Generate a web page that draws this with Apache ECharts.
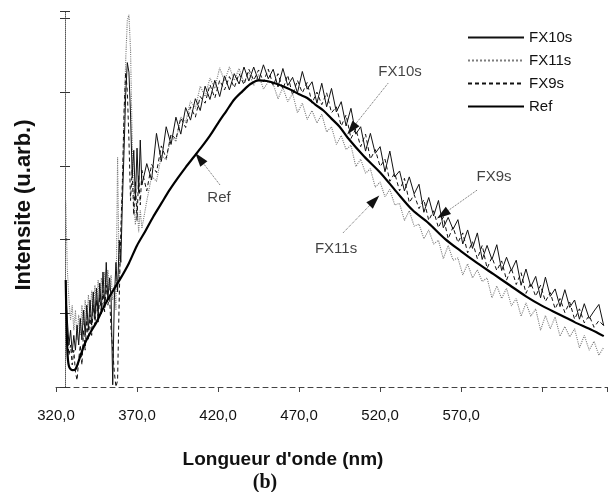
<!DOCTYPE html>
<html>
<head>
<meta charset="utf-8">
<script src="https://cdn.jsdelivr.net/npm/echarts@6/dist/echarts.min.js"></script>
<style>html,body{margin:0;padding:0;background:#fff}#c{width:615px;height:492px}</style>
</head>
<body>
<div id="c"></div>
<script>
// Wavelength sampling (nm) shared by the three FX spectra
const fxNm = [326,327,328,329,330,331,332,333,334,335,336,337,338,339,340,341,342,343,344,345,346,347,348,349,350,351,352,353,354,355,356,357,358,359,360,361,362,363,364,365,366,367,368,369,370,371,372,373,
376,379,382,385,388,391,394,397,400,403,406,409,412,415,418,421,424,427,430,433,436,439,442,445,448,451,
454,457,460,463,466,469,472,475,478,481,484,487,490,493,496,499,502,505,508,511,514,517,520,523,526,529,532,535,538,541,544,547,550,553,556,559,562,565,568,571,574,577,580,583,586,589,592,595,598,601,604,607,610,613,616,619,622,625,628,631,634,637,640,643,646,649,652,655,658];

const fx10 = [1.31,0.91,0.57,0.77,0.47,0.70,0.50,0.84,0.57,0.93,0.64,1.04,0.70,1.11,0.77,1.18,0.84,1.29,0.93,1.34,0.98,1.41,1.04,1.56,1.11,1.69,1.18,1.48,1.21,0.03,1.18,1.69,1.29,1.99,1.69,2.53,3.21,3.96,4.40,4.27,3.69,2.87,3.21,2.53,3.24,2.64,3.35,2.74,
3.03,2.81,3.44,3.06,3.53,3.29,3.66,3.43,3.79,3.62,3.91,3.75,4.08,3.90,4.16,3.94,4.22,4.03,4.25,4.11,4.34,4.15,4.34,4.15,4.37,4.18,
4.31,4.07,4.32,4.09,4.20,3.99,4.28,4.04,4.14,3.85,4.12,3.80,4.05,3.73,3.87,3.54,3.78,3.43,3.53,3.20,3.44,3.17,3.26,2.92,3.20,2.85,2.93,2.66,2.85,2.62,2.75,2.37,2.57,2.32,2.53,2.16,2.30,2.14,2.27,1.94,2.13,1.88,2.09,1.73,1.92,1.73,1.93,1.58,1.76,1.58,1.72,1.38,1.60,1.36,1.50,1.21,1.49,1.23,1.33,1.09,1.32,1.08,1.18,0.92,1.13,0.93,1.03,1.12,0.83];

const fx9 = [1.18,0.70,0.43,0.57,0.30,0.50,0.20,0.09,0.37,0.57,0.30,0.77,0.50,0.91,0.64,0.98,0.70,1.11,0.84,1.18,0.88,1.25,0.98,1.31,1.02,1.38,1.11,1.25,0.77,0.50,0.20,0.00,0.09,1.18,2.13,2.80,3.75,4.27,4.02,3.35,2.53,2.94,2.33,2.80,2.26,2.87,2.47,2.94,
2.66,3.02,2.91,3.27,3.10,3.43,3.36,3.65,3.52,3.80,3.66,3.94,3.85,4.10,3.92,4.16,4.03,4.21,4.06,4.25,4.10,4.31,4.16,4.30,4.14,4.31,
4.09,4.25,4.04,4.23,3.96,4.16,3.99,4.13,3.85,4.00,3.83,3.99,3.72,3.80,3.54,3.69,3.37,3.50,3.26,3.43,3.09,3.22,2.99,3.09,2.79,2.90,2.66,2.83,2.50,2.61,2.42,2.54,2.26,2.39,2.16,2.31,2.01,2.17,1.96,2.09,1.82,1.97,1.74,1.92,1.61,1.76,1.58,1.71,1.45,1.61,1.39,1.55,1.27,1.41,1.23,1.38,1.16,1.28,1.06,1.20,1.01,1.15,0.92,1.06,0.87,0.97,0.81,0.90,0.83];

const fx11 = [2.53,1.59,1.18,0.91,1.11,0.77,1.04,0.64,0.98,0.70,1.11,0.84,1.18,0.91,1.25,0.93,1.31,1.02,1.38,1.11,1.45,1.18,1.48,1.21,1.56,1.29,1.59,1.31,1.52,1.18,1.38,1.04,3.12,1.45,1.99,2.80,3.62,4.43,4.97,5.05,4.57,3.35,2.47,2.20,2.53,2.10,2.40,2.15,
2.52,2.86,2.79,3.14,3.08,3.41,3.33,3.66,3.59,3.88,3.78,4.08,3.94,4.19,4.05,4.33,4.15,4.34,4.16,4.32,4.13,4.27,4.09,4.24,4.04,4.14,
4.11,3.91,4.06,3.87,3.98,3.72,3.85,3.63,3.75,3.58,3.70,3.46,3.53,3.29,3.41,3.22,3.28,2.99,3.09,2.90,2.96,2.71,2.78,2.58,2.68,2.47,2.49,2.26,2.39,2.18,2.21,2.01,2.13,1.94,1.99,1.74,1.92,1.72,1.75,1.52,1.67,1.48,1.59,1.43,1.48,1.21,1.37,1.20,1.34,1.10,1.20,0.96,1.14,0.96,1.06,0.77,0.97,0.79,0.95,0.69,0.82,0.68,0.79,0.53,0.70,0.50,0.62,0.43,0.54];

// Reference spectrum (smooth)
const refNm = [326,327,328,330,332,335,338,341,345,350,355,360,365,370,375,380,385,390,395,400,405,410,415,420,425,430,435,440,445,450,455,460,465,470,475,480,485,490,495,500,510,520,530,540,550,560,570,580,590,600,610,620,630,640,650,658];
const refVal = [1.45,0.50,0.28,0.23,0.24,0.42,0.60,0.73,0.88,1.11,1.30,1.48,1.68,1.92,2.11,2.31,2.49,2.67,2.83,2.98,3.12,3.26,3.41,3.58,3.74,3.90,4.01,4.11,4.16,4.15,4.12,4.08,4.03,3.97,3.92,3.83,3.75,3.64,3.53,3.38,3.13,2.91,2.65,2.40,2.22,2.01,1.84,1.68,1.53,1.38,1.23,1.10,0.99,0.88,0.78,0.69];

// Tick labels shown on the wavelength axis
const xTickLabels = [320,370,420,470,520,570];

// Annotations (data units)
const annoText = ['FX10s','FX9s','FX11s','Ref'];
const annoPos  = [[532.3,4.27],[590.3,2.85],[492.8,1.88],[420.6,2.57]];
const arrowFrom = [[524.9,4.12],[579.8,2.67],[497.1,2.09],[421.2,2.74]];
const arrowTo   = [[502.4,3.50],[558.6,2.34],[516.5,2.53],[408.6,3.10]];

const FONT = 'Liberation Sans, Arial, sans-serif';
const chart = echarts.init(document.getElementById('c'), null, {renderer:'canvas'});
const pair = (xs, ys) => xs.map((x, i) => [x, ys[i]]);
// short segment just before each tip, used to carry a solid black arrowhead
const headStart = arrowTo.map((t, i) => [t[0] + 0.12 * (arrowFrom[i][0] - t[0]), t[1] + 0.12 * (arrowFrom[i][1] - t[1])]);

const yBase = {type:'value', min:0, max:5.1, interval:1, offset:-9,
  axisLabel:{show:false}, splitLine:{show:false}};

chart.setOption({
  animation:false,
  backgroundColor:'#fff',
  grid:{left:56, right:8, top:11, bottom:105, containLabel:false},
  legend:{
    data:['FX10s','FX11s','FX9s','Ref'], orient:'vertical', left:467, top:30,
    itemWidth:56, itemHeight:14, itemGap:8, padding:0,
    itemStyle:{opacity:0},
    textStyle:{fontSize:15, color:'#111', fontFamily:FONT}
  },
  xAxis:{
    type:'value', min:320, max:660, interval:50,
    axisLine:{lineStyle:{color:'#444', width:1, type:[5,4]}},
    axisTick:{show:true, length:5, lineStyle:{color:'#444'}},
    splitLine:{show:false},
    axisLabel:{margin:21, fontSize:15, color:'#111', fontFamily:FONT,
      formatter: v => xTickLabels.indexOf(v) >= 0 ? v.toFixed(1).replace('.', ',') : ''}
  },
  yAxis:[
    Object.assign({}, yBase, {axisLine:{show:true, lineStyle:{color:'#555', type:'dotted'}},
      axisTick:{show:true, length:5, lineStyle:{color:'#333'}}}),
    Object.assign({}, yBase, {position:'left', axisLine:{show:false},
      axisTick:{show:true, inside:true, length:5, lineStyle:{color:'#333'}}})
  ],
  graphic:[
    {type:'text', x:283, y:460, style:{text:"Longueur d'onde (nm)", font:'bold 19px '+FONT, fill:'#111', textAlign:'center', textVerticalAlign:'middle'}},
    {type:'text', x:24, y:205, rotation:Math.PI/2, style:{text:'Intensite (u.arb.)', font:'bold 22px '+FONT, fill:'#111', textAlign:'center', textVerticalAlign:'middle'}},
    {type:'text', x:265, y:483, style:{text:'(b)', font:'bold 20px Liberation Serif, Times New Roman, serif', fill:'#111', textAlign:'center', textVerticalAlign:'middle'}}
  ],
  series:[
    {name:'FX11s', type:'line', symbol:'none', data:pair(fxNm, fx11),
     lineStyle:{color:'#7d7d7d', width:1.1, type:'dotted'}, itemStyle:{color:'#7d7d7d'}, z:2},
    {name:'FX9s', type:'line', symbol:'none', data:pair(fxNm, fx9),
     lineStyle:{color:'#111', width:1, type:[4,3]}, itemStyle:{color:'#111'}, z:3},
    {name:'FX10s', type:'line', symbol:'none', data:pair(fxNm, fx10),
     lineStyle:{color:'#111', width:1}, itemStyle:{color:'#111'}, z:4},
    {name:'Ref', type:'line', symbol:'none', smooth:0.3, data:pair(refNm, refVal),
     lineStyle:{color:'#000', width:2.2}, itemStyle:{color:'#000'}, z:5},
    {name:'anno', type:'scatter', symbolSize:0, silent:true, z:6,
     data: annoPos.map((p, i) => ({value:p, name:annoText[i]})),
     label:{show:true, position:'inside', formatter:'{b}', fontSize:15, color:'#111', fontFamily:FONT},
     markLine:{silent:true, symbol:['none','none'], animation:false,
       lineStyle:{color:'#666', width:1, type:'dotted'}, label:{show:false},
       data: arrowFrom.map((f, i) => [{coord:f}, {coord:headStart[i]}])}
    },
    {name:'annoHead', type:'scatter', data:[], silent:true, z:7,
     markLine:{silent:true, symbol:['none','triangle'], symbolSize:[9,14], animation:false,
       lineStyle:{color:'#111', width:1, type:'solid'}, label:{show:false},
       data: headStart.map((s, i) => [{coord:s}, {coord:arrowTo[i]}])}
    }
  ]
});
</script>
</body>
</html>
